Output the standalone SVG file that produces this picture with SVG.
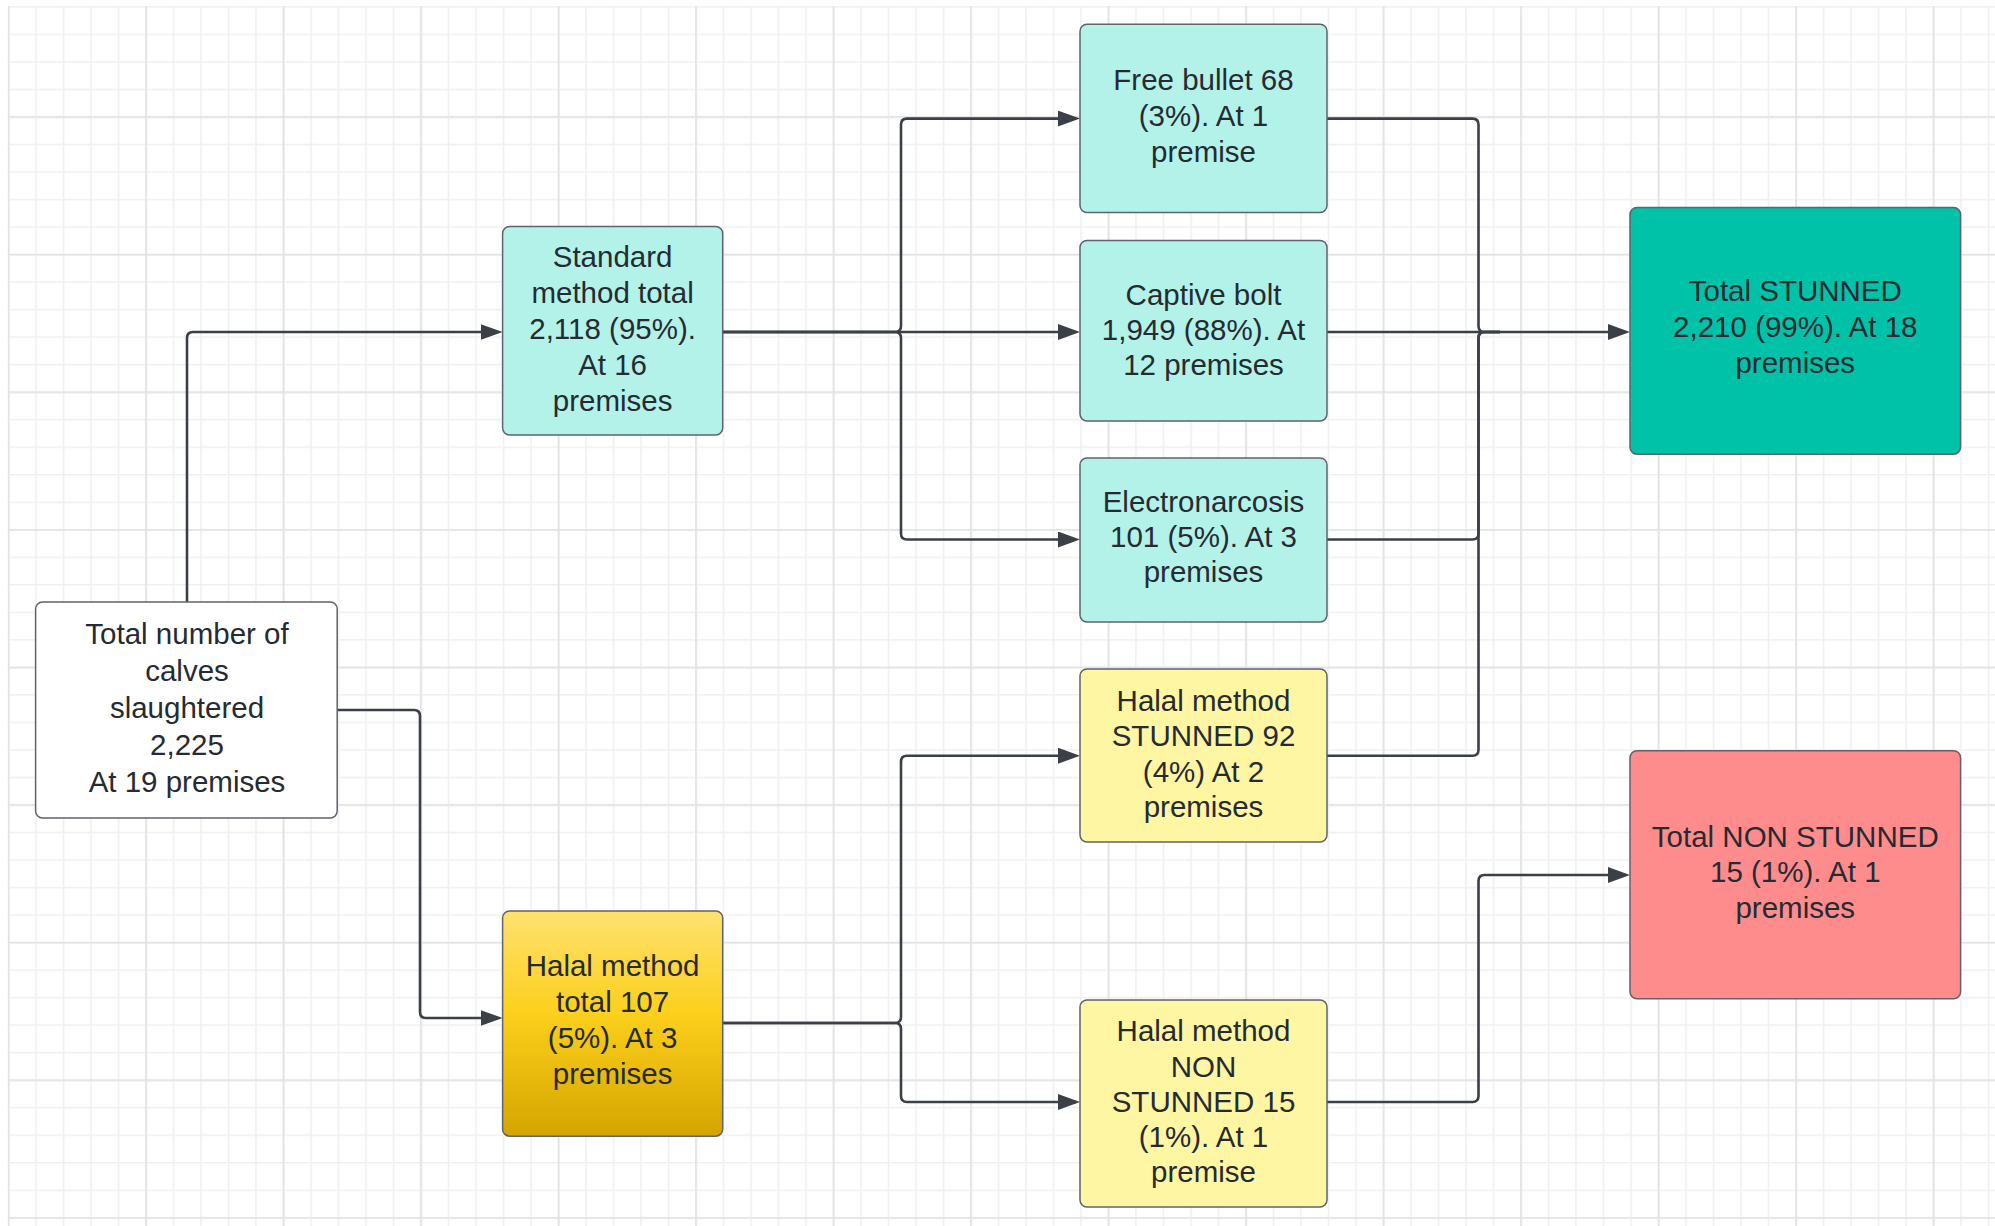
<svg xmlns="http://www.w3.org/2000/svg" width="1995" height="1226" viewBox="0 0 1995 1226">
<style>
.box{stroke:#5f636b;stroke-width:1.5}
.t{font-family:"Liberation Sans",Arial,sans-serif;font-size:29.5px;fill:#262a31;text-anchor:middle}
.c{fill:none;stroke:#3b4048;stroke-width:2.6;stroke-linejoin:round}
.a{marker-end:url(#arr)}
</style>
<defs>
<pattern id="gMinor" patternUnits="userSpaceOnUse" x="7.75" y="6.15" width="27.5" height="27.52">
<rect x="0" y="0" width="1.5" height="27.52" fill="#efefef"/>
<rect x="0" y="0" width="27.5" height="1.5" fill="#efefef"/>
</pattern>
<pattern id="gMajor" patternUnits="userSpaceOnUse" x="7.75" y="-21.35" width="137.5" height="137.6">
<rect x="0" y="0" width="1.6" height="137.6" fill="#e2e2e2"/>
<rect x="0" y="0" width="137.5" height="1.6" fill="#e2e2e2"/>
</pattern>
<linearGradient id="gold" x1="0" y1="0" x2="0" y2="1">
<stop offset="0" stop-color="#ffe170"/>
<stop offset="0.45" stop-color="#fcd01c"/>
<stop offset="1" stop-color="#d4a500"/>
</linearGradient>
<marker id="arr" markerUnits="userSpaceOnUse" markerWidth="22" markerHeight="16" viewBox="0 0 22 16" refX="18" refY="8" orient="auto">
<path d="M0,0 L22,8 L0,16 Z" fill="#3b4048"/>
</marker>
</defs>
<rect width="1995" height="1226" fill="#ffffff"/>
<rect x="7.75" y="6.15" width="1988" height="1220" fill="url(#gMinor)"/>
<rect x="7.75" y="6.15" width="1988" height="1220" fill="url(#gMajor)"/>

<g id="connectors">
<path class="c a" d="M187,602 V338 Q187,332 193,332 H498.6"/>
<path class="c a" d="M337.2,710 H414 Q420,710 420,716 V1012 Q420,1018 426,1018 H498.6"/>
<path class="c a" d="M722.7,332 H895 Q901,332 901,326 V124.6 Q901,118.6 907,118.6 H1076"/>
<path class="c a" d="M722.7,332 H1076"/>
<path class="c a" d="M722.7,332 H895 Q901,332 901,338 V533.5 Q901,539.5 907,539.5 H1076"/>
<path class="c a" d="M722.7,1023 H895 Q901,1023 901,1017 V761.7 Q901,755.7 907,755.7 H1076"/>
<path class="c a" d="M722.7,1023 H895 Q901,1023 901,1029 V1096 Q901,1102 907,1102 H1076"/>
<path class="c" d="M1327,118.6 H1472.5 Q1478.5,118.6 1478.5,124.6 V326 Q1478.5,332 1484.5,332 H1500"/>
<path class="c a" d="M1327,332 H1626"/>
<path class="c" d="M1327,539.5 H1472.5 Q1478.5,539.5 1478.5,533.5 V338 Q1478.5,332 1484.5,332 H1500"/>
<path class="c" d="M1327,755.7 H1472.5 Q1478.5,755.7 1478.5,749.7 V338 Q1478.5,332 1484.5,332 H1500"/>
<path class="c a" d="M1327,1102 H1472.5 Q1478.5,1102 1478.5,1096 V881 Q1478.5,875 1484.5,875 H1626"/>
</g>

<g id="total">
<rect class="box" x="35.6" y="602" width="301.6" height="216" rx="7" fill="#ffffff" stroke="#7a7e85"/>
<text class="t"><tspan x="187" y="643.5">Total number of</tspan><tspan x="187" y="680.5">calves</tspan><tspan x="187" y="717.5">slaughtered</tspan><tspan x="187" y="754.5">2,225</tspan><tspan x="187" y="791.5">At 19 premises</tspan></text>
</g>

<g id="standard">
<rect class="box" x="502.6" y="226.5" width="220.1" height="208.6" rx="7" fill="#b3f2e9"/>
<text class="t"><tspan x="612.6" y="267">Standard</tspan><tspan x="612.6" y="303">method total</tspan><tspan x="612.6" y="339">2,118 (95%).</tspan><tspan x="612.6" y="375">At 16</tspan><tspan x="612.6" y="411">premises</tspan></text>
</g>

<g id="halal-total">
<rect class="box" x="502.6" y="911" width="220.1" height="225.2" rx="7" fill="url(#gold)"/>
<text class="t"><tspan x="612.6" y="975.5">Halal method</tspan><tspan x="612.6" y="1011.5">total 107</tspan><tspan x="612.6" y="1047.5">(5%). At 3</tspan><tspan x="612.6" y="1083.5">premises</tspan></text>
</g>

<g id="free-bullet">
<rect class="box" x="1080" y="24.2" width="247" height="188.3" rx="7" fill="#b3f2e9"/>
<text class="t"><tspan x="1203.5" y="90">Free bullet 68</tspan><tspan x="1203.5" y="126">(3%). At 1</tspan><tspan x="1203.5" y="162">premise</tspan></text>
</g>

<g id="captive-bolt">
<rect class="box" x="1080" y="240.5" width="247" height="180.5" rx="7" fill="#b3f2e9"/>
<text class="t"><tspan x="1203.5" y="304.5">Captive bolt</tspan><tspan x="1203.5" y="339.5">1,949 (88%). At</tspan><tspan x="1203.5" y="374.5">12 premises</tspan></text>
</g>

<g id="electronarcosis">
<rect class="box" x="1080" y="458" width="247" height="164" rx="7" fill="#b3f2e9"/>
<text class="t"><tspan x="1203.5" y="512">Electronarcosis</tspan><tspan x="1203.5" y="547">101 (5%). At 3</tspan><tspan x="1203.5" y="582">premises</tspan></text>
</g>

<g id="halal-stunned">
<rect class="box" x="1080" y="669" width="247" height="173" rx="7" fill="#fff6a3"/>
<text class="t"><tspan x="1203.5" y="710.5">Halal method</tspan><tspan x="1203.5" y="746">STUNNED 92</tspan><tspan x="1203.5" y="781.5">(4%) At 2</tspan><tspan x="1203.5" y="817">premises</tspan></text>
</g>

<g id="halal-non-stunned">
<rect class="box" x="1080" y="1000" width="247" height="207" rx="7" fill="#fff6a3"/>
<text class="t"><tspan x="1203.5" y="1041">Halal method</tspan><tspan x="1203.5" y="1076.5">NON</tspan><tspan x="1203.5" y="1111.5">STUNNED 15</tspan><tspan x="1203.5" y="1147">(1%). At 1</tspan><tspan x="1203.5" y="1182">premise</tspan></text>
</g>

<g id="total-stunned">
<rect class="box" x="1630" y="207.4" width="330.6" height="246.8" rx="7" fill="#00c2a8"/>
<text class="t"><tspan x="1795.3" y="300.5">Total STUNNED</tspan><tspan x="1795.3" y="337">2,210 (99%). At 18</tspan><tspan x="1795.3" y="373">premises</tspan></text>
</g>

<g id="total-non-stunned">
<rect class="box" x="1630" y="750.7" width="330.6" height="248.1" rx="7" fill="#ff8c8c"/>
<text class="t"><tspan x="1795.3" y="846.5">Total NON STUNNED</tspan><tspan x="1795.3" y="882">15 (1%). At 1</tspan><tspan x="1795.3" y="917.5">premises</tspan></text>
</g>
</svg>
